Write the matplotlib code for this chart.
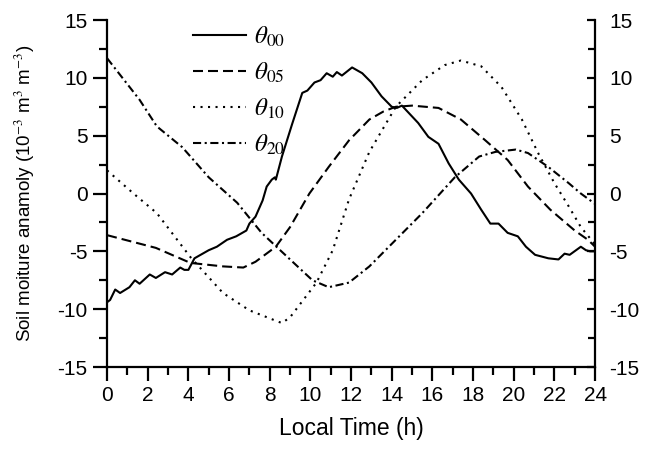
import matplotlib
matplotlib.use('Agg')
import matplotlib.pyplot as plt
from matplotlib.ticker import MultipleLocator

# values (hour, anomaly in 1e-3 m3/m3)
hours_00 = [0, 0.15, 0.4, 0.64, 1.1, 1.37, 1.6, 2.1, 2.4, 2.85, 3.2, 3.6, 3.8, 4.0, 4.3, 4.7,
            5.0, 5.4, 5.9, 6.35, 6.85, 7.0, 7.3, 7.65, 7.85, 8.1, 8.25, 8.3, 8.6, 9.1, 9.6,
            9.85, 10.2, 10.5, 10.8, 11.1, 11.3, 11.55, 12.05, 12.55, 13.0, 13.5, 14.0, 14.25,
            14.5, 15.3, 15.8, 16.3, 16.8, 17.3, 17.9, 18.4, 18.85, 19.25, 19.7, 20.2, 20.6,
            21.05, 21.7, 22.2, 22.5, 22.75, 23.3, 23.55, 23.75, 24.0]
theta_00 = [-9.4, -9.2, -8.3, -8.6, -8.1, -7.5, -7.8, -7.0, -7.3, -6.8, -7.0, -6.4, -6.6, -6.6,
            -5.6, -5.2, -4.9, -4.6, -4.0, -3.7, -3.2, -2.6, -2.0, -0.6, 0.6, 1.2, 1.4, 1.2,
            3.2, 6.0, 8.7, 8.9, 9.6, 9.8, 10.4, 10.1, 10.5, 10.2, 10.9, 10.4, 9.6, 8.4, 7.5,
            7.4, 7.6, 6.1, 4.9, 4.3, 2.6, 1.2, 0.0, -1.4, -2.6, -2.6, -3.4, -3.7, -4.6, -5.3,
            -5.6, -5.7, -5.2, -5.3, -4.6, -4.9, -5.0, -5.0]

hours_05 = [0, 2.4, 4.1, 5.7, 6.7, 7.3, 8.3, 9.0, 9.95, 10.9, 11.9, 12.9, 13.6, 14.2, 15.0,
            16.3, 17.4, 18.6, 19.7, 20.7, 21.8, 23.0, 23.65, 24.0]
theta_05 = [-3.6, -4.7, -6.0, -6.3, -6.4, -5.9, -4.6, -2.9, 0.0, 2.3, 4.6, 6.4, 7.1, 7.5, 7.6,
            7.4, 6.4, 4.6, 2.9, 0.6, -1.4, -3.2, -4.0, -4.6]

hours_10 = [0, 1.3, 2.45, 4.1, 5.7, 7.0, 8.3, 8.6, 9.0, 10.3, 11.1, 11.9, 12.9, 14.2, 15.5,
            16.6, 17.4, 18.4, 19.4, 20.4, 21.2, 22.0, 22.7, 23.3, 24.0]
theta_10 = [2.0, 0.0, -1.7, -5.5, -8.6, -10.1, -11.0, -11.2, -10.7, -7.7, -4.9, -0.5, 3.6, 7.5,
            9.8, 11.1, 11.5, 11.0, 9.2, 6.4, 3.5, 0.9, -1.1, -2.9, -4.4]

hours_20 = [0, 1.6, 2.45, 3.7, 5.0, 6.4, 7.6, 9.0, 10.1, 10.9, 11.9, 12.9, 14.2, 15.5, 17.1,
            18.3, 19.1, 20.1, 20.7, 21.7, 22.7, 23.3, 24.0]
theta_20 = [11.7, 8.1, 5.8, 4.0, 1.4, -0.8, -3.4, -5.7, -7.5, -8.1, -7.7, -6.3, -4.0, -1.7,
            1.4, 3.2, 3.6, 3.8, 3.5, 2.3, 0.9, 0.0, -0.9]

series_labels = [r'$\theta_{00}$', r'$\theta_{05}$', r'$\theta_{10}$', r'$\theta_{20}$']

plt.rcParams['font.family'] = ['Liberation Sans', 'DejaVu Sans']
plt.rcParams['mathtext.fontset'] = 'stix'
plt.rcParams['axes.unicode_minus'] = False

fig = plt.figure(figsize=(6.45, 4.5), dpi=100)
ax = fig.add_axes([0.166, 0.1844, 0.7566, 0.7711])

lw = 1.5
ax.plot(hours_00, theta_00, color='black', lw=lw, linestyle='-', label=series_labels[0])
ax.plot(hours_05, theta_05, color='black', lw=lw, linestyle=(0, (4.8, 2.4)), label=series_labels[1])
ax.plot(hours_10, theta_10, color='black', lw=lw, linestyle=(0, (1.0, 2.6)), label=series_labels[2])
ax.plot(hours_20, theta_20, color='black', lw=lw, linestyle=(0, (3.9, 1.7, 1.0, 1.7)), label=series_labels[3])

ax.set_xlim(0, 24)
ax.set_ylim(-15, 15)
ax.xaxis.set_major_locator(MultipleLocator(2))
ax.xaxis.set_minor_locator(MultipleLocator(1))
ax.yaxis.set_major_locator(MultipleLocator(5))
ax.yaxis.set_minor_locator(MultipleLocator(2.5))

for side in ['left', 'right', 'bottom']:
    ax.spines[side].set_linewidth(1.6)
ax.spines['top'].set_visible(False)

ax.tick_params(axis='x', which='major', direction='out', length=10, width=1.6, labelsize=15, pad=4)
ax.tick_params(axis='x', which='minor', direction='out', length=6, width=1.6)
ax.tick_params(axis='y', which='major', direction='out', length=10, width=1.6, labelsize=15,
               pad=4, right=False, left=True)
ax.tick_params(axis='y', which='minor', direction='out', length=6, width=1.6, right=False, left=True)

ax2 = ax.twinx()
ax2.set_ylim(-15, 15)
ax2.yaxis.set_major_locator(MultipleLocator(5))
ax2.yaxis.set_minor_locator(MultipleLocator(2.5))
ax2.tick_params(axis='y', which='major', direction='in', length=6, width=1.6, labelsize=15, pad=10)
ax2.tick_params(axis='y', which='minor', direction='in', length=5, width=1.6)
for s in ax2.spines.values():
    s.set_visible(False)

ax.set_xlabel('Local Time (h)', fontsize=16.5, labelpad=8)
ax.set_ylabel(r'Soil moiture anamoly (10$^{-3}$ m$^{3}$ m$^{-3}$)', fontsize=13.5, labelpad=15)

leg = ax.legend(loc='upper left', bbox_to_anchor=(0.13, 1.05), frameon=False, fontsize=18,
                handlelength=2.1, labelspacing=0.46, handletextpad=0.35)

fig.savefig('out.png', dpi=100, facecolor='white')
